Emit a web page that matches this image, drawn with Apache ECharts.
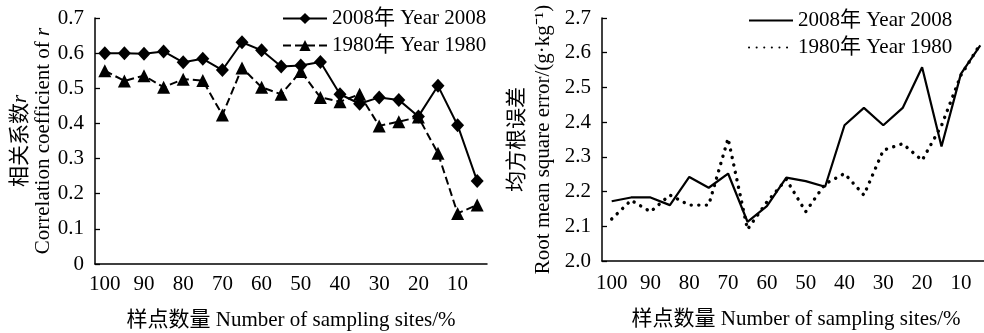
<!DOCTYPE html>
<html>
<head>
<meta charset="utf-8">
<script src="https://cdn.jsdelivr.net/npm/echarts@6/dist/echarts.min.js"></script>
<style>
  html, body { margin: 0; padding: 0; background: #fff; }
  #left { position: absolute; left: 0; top: 0; width: 492px; height: 333px; }
  #right { position: absolute; left: 490px; top: 0; width: 494px; height: 333px; }
</style>
</head>
<body>
<div id="left"></div>
<div id="right"></div>
<script>
// sampling-site share, %
const sites = ['100', '95', '90', '85', '80', '75', '70', '65', '60', '55',
  '50', '45', '40', '35', '30', '25', '20', '15', '10', '5'];
// correlation coefficient r
const r2008 = [0.600, 0.600, 0.598, 0.605, 0.574, 0.584, 0.552, 0.631, 0.608, 0.562,
  0.565, 0.575, 0.483, 0.456, 0.474, 0.467, 0.420, 0.507, 0.395, 0.236];
const r1980 = [0.550, 0.521, 0.536, 0.503, 0.526, 0.522, 0.424, 0.558, 0.503, 0.483,
  0.548, 0.474, 0.462, 0.483, 0.393, 0.405, 0.418, 0.315, 0.144, 0.168];
// root mean square error, g/kg
const rmse2008 = [2.172, 2.183, 2.183, 2.161, 2.242, 2.211, 2.252, 2.113, 2.158, 2.240,
  2.230, 2.214, 2.391, 2.441, 2.391, 2.441, 2.558, 2.330, 2.539, 2.621];
const rmse1980 = [2.121, 2.175, 2.142, 2.190, 2.161, 2.161, 2.353, 2.091, 2.170, 2.235,
  2.142, 2.222, 2.252, 2.190, 2.319, 2.338, 2.290, 2.390, 2.535, 2.625];

const name2008 = '2008年 Year 2008';
const name1980 = '1980年 Year 1980';
const xTitle = '样点数量 Number of sampling sites/%';

const FONT = "'Liberation Serif', 'Noto Sans CJK SC', serif";
const txt = { color: '#000', fontFamily: FONT, fontSize: 21 };

function xAxisOpt(gap, margin) {
  return {
    type: 'category',
    data: sites,
    boundaryGap: true,
    name: xTitle,
    nameLocation: 'middle',
    nameGap: gap,
    nameMoveOverlap: false,
    nameTextStyle: txt,
    axisLine: { lineStyle: { color: '#000', width: 1.5 } },
    axisTick: { inside: true, interval: 0, length: 6, lineStyle: { color: '#000', width: 1.3 } },
    axisLabel: Object.assign({ interval: 1, margin: margin }, txt),
    splitLine: { show: false },
  };
}

function yAxisOpt(min, max, fmt, name, gap, lh) {
  return {
    type: 'value',
    min: min,
    max: max,
    interval: 0.1,
    name: name,
    nameLocation: 'middle',
    nameRotate: 90,
    nameGap: gap,
    nameMoveOverlap: false,
    nameTextStyle: {
      color: '#000', fontFamily: FONT, fontSize: 21, lineHeight: lh, align: 'center',
      rich: {
        i: { fontFamily: FONT, fontSize: 21, fontStyle: 'italic', color: '#000', lineHeight: lh },
      },
    },
    axisLine: { show: true, lineStyle: { color: '#000', width: 1.5 } },
    axisTick: { show: true, inside: true, length: 5, lineStyle: { color: '#000', width: 1.3 } },
    axisLabel: Object.assign({ margin: 11, formatter: fmt }, txt),
    splitLine: { show: false },
  };
}

const left = echarts.init(document.getElementById('left'));
left.setOption({
  animation: false,
  grid: { left: 95, top: 18, width: 392, bottom: 69, outerBoundsMode: 'none' },
  legend: {
    orient: 'vertical',
    left: 282,
    top: 8,
    padding: 0,
    itemWidth: 44,
    itemHeight: 14,
    itemGap: 6,
    textStyle: txt,
    data: [name2008, name1980],
  },
  xAxis: xAxisOpt(46, 10),
  yAxis: yAxisOpt(0, 0.7, v => (v === 0 ? '0' : v.toFixed(1)),
    '相关系数{i|r}\nCorrelation coefficient of {i|r}', 40, 23),
  series: [
    {
      name: name2008,
      type: 'line',
      data: r2008,
      symbol: 'diamond',
      symbolSize: [13, 14],
      showSymbol: true,
      showAllSymbol: true,
      itemStyle: { color: '#000' },
      lineStyle: { color: '#000', width: 2 },
    },
    {
      name: name1980,
      type: 'line',
      data: r1980,
      symbol: 'triangle',
      symbolSize: [13, 13],
      showSymbol: true,
      showAllSymbol: true,
      itemStyle: { color: '#000' },
      lineStyle: { color: '#000', width: 2, type: [8, 4] },
    },
  ],
});

const right = echarts.init(document.getElementById('right'));
right.setOption({
  animation: false,
  grid: { left: 112, top: 18, width: 388, bottom: 72, outerBoundsMode: 'none' },
  legend: {
    orient: 'vertical',
    left: 258,
    top: 10,
    padding: 0,
    itemWidth: 44,
    itemHeight: 14,
    itemGap: 6,
    textStyle: txt,
    itemStyle: { opacity: 0 },
    data: [name2008, name1980],
  },
  xAxis: xAxisOpt(48, 12),
  yAxis: yAxisOpt(2.0, 2.7, v => v.toFixed(1),
    '均方根误差\nRoot mean square error/(g·kg⁻¹)', 46, 26),
  series: [
    {
      name: name2008,
      type: 'line',
      data: rmse2008,
      symbol: 'none',
      itemStyle: { color: '#000' },
      lineStyle: { color: '#000', width: 2.2 },
    },
    {
      name: name1980,
      type: 'line',
      data: rmse1980,
      symbol: 'none',
      itemStyle: { color: '#000' },
      lineStyle: { color: '#000', width: 3.4, type: [0.1, 7.5], cap: 'round' },
    },
  ],
});
</script>
</body>
</html>
